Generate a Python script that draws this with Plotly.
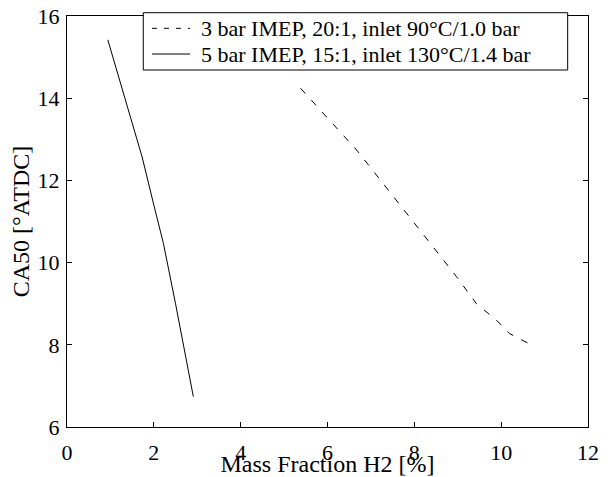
import plotly.graph_objects as go

# Data
x_3bar = [5.38, 5.90, 6.67, 7.21, 7.82, 8.43, 8.97, 9.43, 9.89, 10.20, 10.62]
y_3bar = [14.24, 13.64, 12.74, 12.02, 11.20, 10.39, 9.66, 9.00, 8.60, 8.27, 8.04]

x_5bar = [0.94, 1.23, 1.50, 1.73, 2.00, 2.22, 2.50, 2.75, 2.91]
y_5bar = [15.42, 14.36, 13.40, 12.57, 11.40, 10.47, 9.00, 7.60, 6.74]

name_3bar = "3 bar IMEP, 20:1, inlet 90°C/1.0 bar"
name_5bar = "5 bar IMEP, 15:1, inlet 130°C/1.4 bar"

x_ticks = [0, 2, 4, 6, 8, 10, 12]
y_ticks = [6, 8, 10, 12, 14, 16]

FONT = "Liberation Serif"
DASH_TRACE = "7px,9px"
DASH_SAMPLE = "5px,7px"

fig = go.Figure()
fig.add_trace(go.Scatter(x=x_3bar, y=y_3bar, mode="lines", name=name_3bar,
                         line=dict(color="black", width=1, dash=DASH_TRACE),
                         showlegend=False))
fig.add_trace(go.Scatter(x=x_5bar, y=y_5bar, mode="lines", name=name_5bar,
                         line=dict(color="black", width=1),
                         showlegend=False))

fig.update_xaxes(
    range=[0, 12], tickmode="array", tickvals=x_ticks,
    showgrid=False, zeroline=False, showline=True, linecolor="black", linewidth=1,
    mirror="allticks", ticks="inside", ticklen=5, tickcolor="black", tickwidth=1,
    tickfont=dict(family=FONT, size=22, color="black"), ticklabelstandoff=6,
    ticklabeloverflow="allow",
    title=dict(text="Mass Fraction H2 [%]", standoff=7,
               font=dict(family=FONT, size=24, color="black")),
)
fig.update_yaxes(
    range=[6, 16], tickmode="array", tickvals=y_ticks,
    showgrid=False, zeroline=False, showline=True, linecolor="black", linewidth=1,
    mirror="allticks", ticks="inside", ticklen=5, tickcolor="black", tickwidth=1,
    tickfont=dict(family=FONT, size=22, color="black"), ticklabelstandoff=2,
    ticklabeloverflow="allow",
    title=dict(text="CA50 [°ATDC]", standoff=8,
               font=dict(family=FONT, size=24, color="black")),
)

# Boxed, MATLAB-style legend drawn in paper coordinates
LEG_X0, LEG_X1, LEG_Y0, LEG_Y1 = 0.1464, 0.961, 0.8686, 1.008
SAMPLE_X0, SAMPLE_X1, TEXT_X = 0.1631, 0.2361, 0.2533
ROW_Y = [0.970, 0.9075]
entries = [(name_3bar, DASH_SAMPLE), (name_5bar, "solid")]

fig.add_shape(type="rect", xref="paper", yref="paper",
              x0=LEG_X0, x1=LEG_X1, y0=LEG_Y0, y1=LEG_Y1,
              line=dict(color="black", width=1), fillcolor="white", layer="above")
for (label, dash), ry in zip(entries, ROW_Y):
    fig.add_shape(type="line", xref="paper", yref="paper",
                  x0=SAMPLE_X0, x1=SAMPLE_X1, y0=ry, y1=ry,
                  line=dict(color="black", width=1, dash=dash), layer="above")
    fig.add_annotation(xref="paper", yref="paper", x=TEXT_X, y=ry,
                       xanchor="left", yanchor="middle", showarrow=False,
                       text=label, font=dict(family=FONT, size=22, color="black"))

fig.update_layout(
    width=604, height=469,
    margin=dict(l=59, r=24, t=8, b=50, autoexpand=False),
    paper_bgcolor="white", plot_bgcolor="white",
    font=dict(family=FONT, size=22, color="black"),
    showlegend=False,
)

fig.write_html("out.html")
